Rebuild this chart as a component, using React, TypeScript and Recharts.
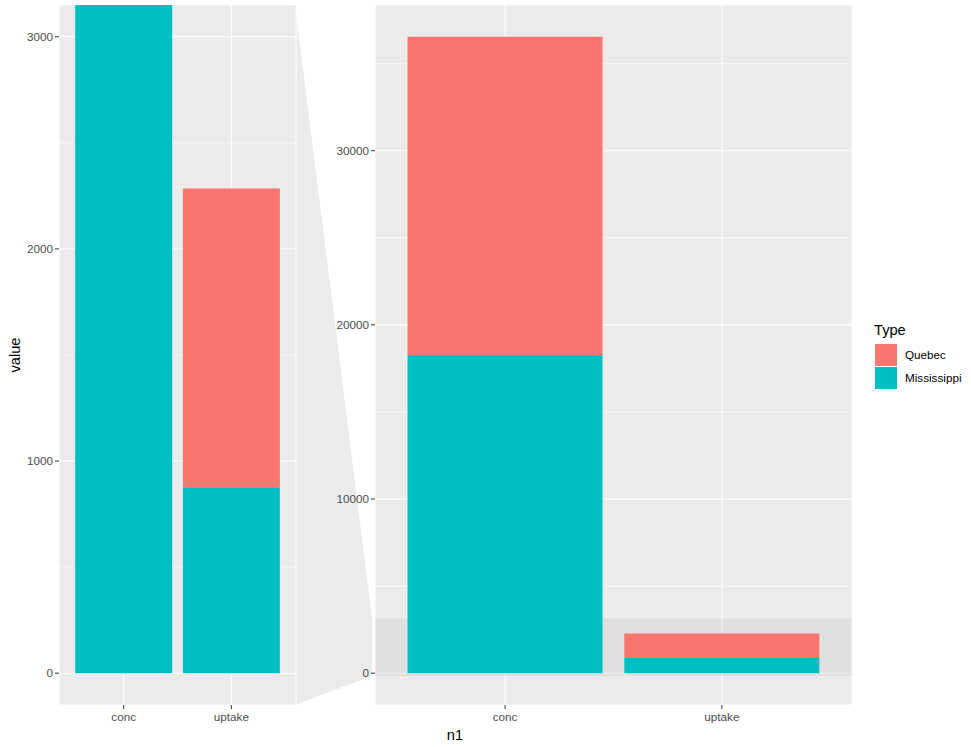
import React from 'react';
import { BarChart, Bar, XAxis, YAxis, CartesianGrid, ReferenceArea } from 'recharts';

// CO2 totals by measure and type
const categories = ['conc', 'uptake'];
const quebec = [18270, 1408.6];
const mississippi = [18270, 876.8];

const types = ['Quebec', 'Mississippi'];
const typeColors = ['#F8766D', '#00BFC4'];

// zoomed y range (left panel) and its ticks
const zoomRange = [0, 3000];
const zoomTicks = [0, 1000, 2000, 3000];
const zoomMinor = [500, 1500, 2500];

// full y range (right panel) ticks
const fullTicks = [0, 10000, 20000, 30000];
const fullMinor = [5000, 15000, 25000, 35000];

const data = categories.map((name, i) => ({
    name,
    Quebec: quebec[i],
    Mississippi: mississippi[i],
}));

const fullMax = Math.max(...categories.map((_, i) => quebec[i] + mississippi[i]));
const expand = (lo: number, hi: number): [number, number] => {
    const pad = (hi - lo) * 0.05;
    return [lo - pad, hi + pad];
};
const zoomDomain = expand(zoomRange[0], zoomRange[1]);
const fullDomain = expand(0, fullMax);

const FONT = '"Liberation Sans", Arial, sans-serif';
const PANEL_TOP = 5;
const PANEL_BOTTOM = 705;
const PANEL_BG = '#EBEBEB';
const tickStyle = { fill: '#4D4D4D', fontSize: 11.7, fontFamily: FONT };
const tickLine = { stroke: '#333333' };

// highlight in the full panel plus the trapezoid joining it to the zoom panel
const ZoomShape = (props: any) => {
    const { x, y, width, height, pad = 0 } = props;
    const left = x - pad;
    const leftEdge = left - 80;
    const tipX = left - 3;
    return (
        <g>
            <polygon
                points={`${leftEdge},${PANEL_TOP} ${tipX},${y} ${tipX},${y + height} ${leftEdge},${PANEL_BOTTOM}`}
                fill={PANEL_BG}
            />
            <rect x={left} y={y} width={width + 2 * pad} height={height} fill="#000" fillOpacity={0.05} />
        </g>
    );
};

const Panel: React.FC<{
    width: number;
    yWidth: number;
    right: number;
    pad: number;
    domain: [number, number];
    ticks: number[];
    minor: number[];
    zoom?: boolean;
}> = ({ width, yWidth, right, pad, domain, ticks, minor, zoom }) => (
    <BarChart
        width={width}
        height={747}
        data={data}
        margin={{ top: PANEL_TOP, right, bottom: 12, left: 0 }}
        barCategoryGap="5%"
    >
        <CartesianGrid fill={PANEL_BG} stroke="#ffffff" strokeWidth={0.55} vertical={false} horizontalValues={minor} />
        <CartesianGrid stroke="#ffffff" strokeWidth={1.1} />
        {zoom && (
            <ReferenceArea y1={zoomDomain[0]} y2={zoomDomain[1]} shape={<ZoomShape pad={pad} />} stroke="none" />
        )}
        <XAxis
            dataKey="name"
            padding={{ left: pad, right: pad }}
            axisLine={false}
            tickLine={tickLine}
            tickSize={4}
            tickMargin={4}
            tick={tickStyle}
            height={30}
        />
        <YAxis
            type="number"
            domain={domain}
            ticks={ticks}
            allowDataOverflow
            axisLine={false}
            tickLine={tickLine}
            tickSize={4}
            tickMargin={2}
            tick={tickStyle}
            width={yWidth}
        />
        <Bar dataKey="Mississippi" stackId="a" fill={typeColors[1]} isAnimationActive={false} />
        <Bar dataKey="Quebec" stackId="a" fill={typeColors[0]} isAnimationActive={false} />
    </BarChart>
);

export default function App() {
    return (
        <div style={{ position: 'absolute', left: 0, top: 0, width: 971, height: 747, background: '#fff', fontFamily: FONT }}>
            <div style={{ position: 'absolute', left: 290, top: 0 }}>
                <Panel width={580} yWidth={85} right={18} pad={21.7} domain={fullDomain} ticks={fullTicks} minor={fullMinor} zoom />
            </div>
            <div style={{ position: 'absolute', left: 0, top: 0 }}>
                <Panel width={300} yWidth={59} right={4} pad={10.8} domain={zoomDomain} ticks={zoomTicks} minor={zoomMinor} />
            </div>
            <div
                style={{
                    position: 'absolute',
                    left: 15,
                    top: 355,
                    transform: 'translate(-50%, -50%) rotate(-90deg)',
                    fontSize: 14.67,
                    color: '#000',
                }}
            >
                value
            </div>
            <div style={{ position: 'absolute', left: 455, top: 735, transform: 'translate(-50%, -50%)', fontSize: 14.67 }}>n1</div>
            <div style={{ position: 'absolute', left: 874, top: 320 }}>
                <div style={{ fontSize: 14.67, lineHeight: '20px', marginBottom: 3 }}>Type</div>
                {types.map((t, i) => (
                    <div key={t} style={{ display: 'flex', alignItems: 'center', height: 23 }}>
                        <div style={{ width: 22, height: 22, background: typeColors[i], marginLeft: 1 }} />
                        <span style={{ fontSize: 11.7, marginLeft: 8 }}>{t}</span>
                    </div>
                ))}
            </div>
        </div>
    );
}
